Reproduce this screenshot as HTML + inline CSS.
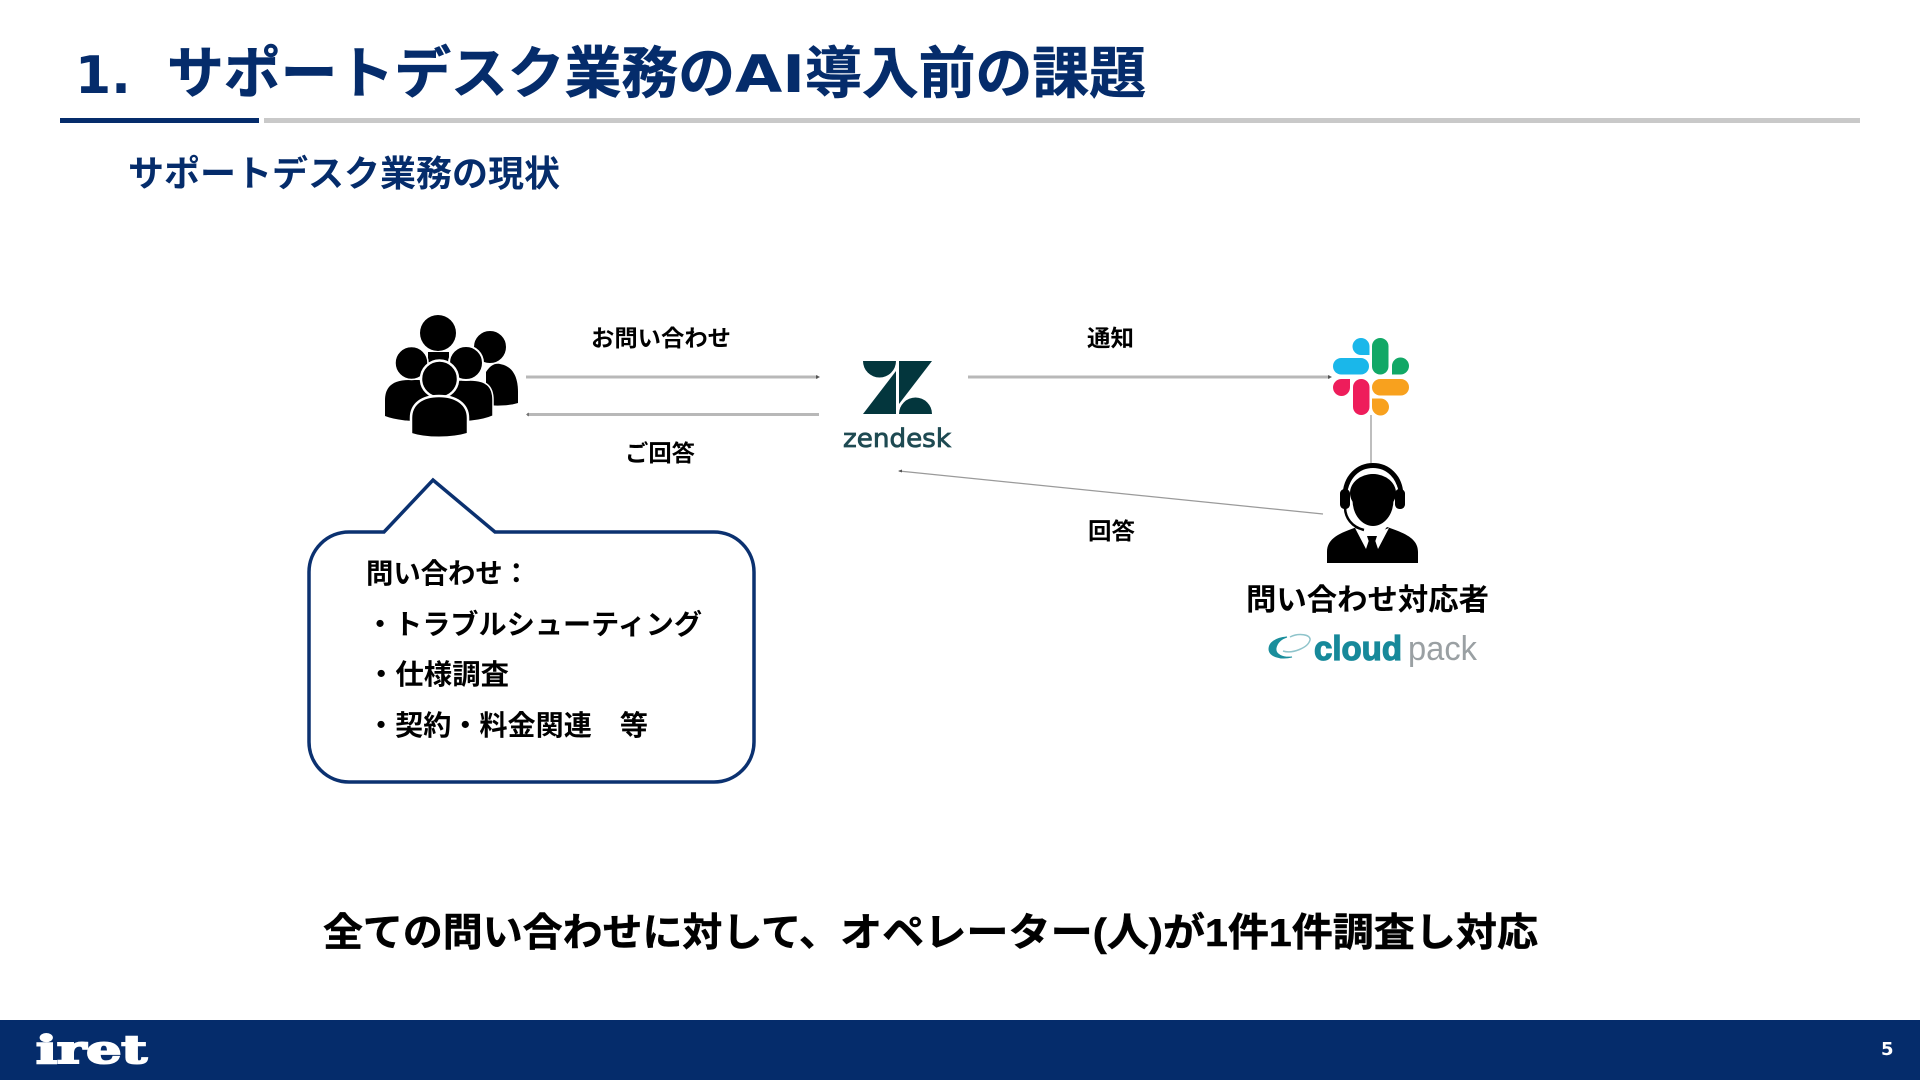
<!DOCTYPE html>
<html lang="ja"><head><meta charset="utf-8"><title>サポートデスク業務</title>
<style>
html,body{margin:0;padding:0;background:#fff;width:1920px;height:1080px;overflow:hidden}
svg{display:block}
text{font-family:"Liberation Sans","Noto Sans CJK JP",sans-serif;font-weight:700;fill:#000}
.n{fill:#052c6b}
.d{font-family:"DejaVu Sans","Noto Sans CJK JP",sans-serif}
</style></head><body>
<svg width="1920" height="1080" viewBox="0 0 1920 1080" xmlns="http://www.w3.org/2000/svg">
<rect width="1920" height="1080" fill="#fff"/>

<!-- Header -->
<text class="n d" x="75" y="93" font-size="52">1.</text>
<text class="n" x="167" y="93" font-size="56" stroke="#052c6b" stroke-width=".6" textLength="568" lengthAdjust="spacingAndGlyphs">サポートデスク業務の</text>
<text class="n d" x="735" y="92" font-size="52" textLength="70" lengthAdjust="spacingAndGlyphs">AI</text>
<text class="n" x="805" y="93" font-size="56" stroke="#052c6b" stroke-width=".6" textLength="341" lengthAdjust="spacingAndGlyphs">導入前の課題</text>
<rect x="60" y="118" width="199" height="5" fill="#052c6b"/>
<rect x="264" y="118" width="1596" height="5" fill="#c9c9c9"/>
<text class="n" x="128" y="186" font-size="36" textLength="432" lengthAdjust="spacingAndGlyphs">サポートデスク業務の現状</text>

<!-- People icon -->
<g fill="#000">
  <path d="M486 405 V372 C490 366 494 363 500 364 C512 366 518 376 518 392 V403 C508 406 496 406 486 405Z"/>
  <circle cx="490" cy="347" r="16.500" stroke="#fff" stroke-width="1"/>
  <circle cx="438" cy="333" r="18"/>
  <rect x="428" y="352" width="21" height="12"/>
  <path d="M385 416 V400 C385 386 394 380 409 380 H420 C430 382 436 388 436 400 V421 C418 422 398 421 385 416Z"/>
  <path d="M493 416 V400 C493 386 486 380 470 380 H458 C448 382 442 388 442 400 V422 C462 423 482 421 493 416Z" stroke="#fff" stroke-width="1.500"/>
  <circle cx="411.500" cy="363" r="16.500" stroke="#fff" stroke-width="1.500"/>
  <circle cx="466" cy="363" r="17" stroke="#fff" stroke-width="2"/>
  <ellipse cx="439.500" cy="379" rx="18.500" ry="18.500" stroke="#fff" stroke-width="2.500"/>
  <path d="M411 434 L411 418 C411 404 422 396 439 396 C456 396 468 404 468 418 L468 434 C452 439 426 439 411 434Z" stroke="#fff" stroke-width="2.500"/>
</g>

<!-- Connectors -->
<g fill="none">
  <line x1="526" y1="377" x2="818" y2="377" stroke="#b8b8b8" stroke-width="3"/>
  <path d="M816 375 L820 377 L816 379Z" fill="#555"/>
  <line x1="527" y1="414.500" x2="819" y2="414.500" stroke="#b8b8b8" stroke-width="3"/>
  <path d="M529 412.500 L526 414.500 L529 416.500Z" fill="#777"/>
  <line x1="968" y1="377" x2="1330" y2="377" stroke="#b8b8b8" stroke-width="3"/>
  <path d="M1328 375 L1332 377 L1328 379Z" fill="#555"/>
  <line x1="1371" y1="415" x2="1371" y2="463" stroke="#a8a8a8" stroke-width="1.500"/>
  <line x1="899" y1="471" x2="1323" y2="514" stroke="#9a9a9a" stroke-width="1.300"/>
  <path d="M902 469.500 L898 471 L902 472.500Z" fill="#555"/>
</g>

<!-- Connector labels -->
<text x="591" y="346" font-size="23" font-weight="500" textLength="140" lengthAdjust="spacingAndGlyphs">お問い合わせ</text>
<text x="625" y="461" font-size="23" textLength="70" lengthAdjust="spacingAndGlyphs">ご回答</text>
<text x="1087" y="346" font-size="23" textLength="47" lengthAdjust="spacingAndGlyphs">通知</text>
<text x="1088" y="539" font-size="23" textLength="47" lengthAdjust="spacingAndGlyphs">回答</text>

<!-- Zendesk -->
<g fill="#03363d">
  <path d="M863 361 H896 A16.500 16.500 0 0 1 863 361Z"/>
  <path d="M899 361 H932 L899 404Z"/>
  <path d="M896 371 V414 H863Z"/>
  <path d="M899 414 A16.500 16.500 0 0 1 932 414Z"/>
</g>
<text x="843" y="447" font-size="26" style="fill:#1e4a52;font-weight:400;font-family:'DejaVu Sans',sans-serif" stroke="#1e4a52" stroke-width=".8" textLength="108" lengthAdjust="spacingAndGlyphs">zendesk</text>

<!-- Slack -->
<g>
  <rect x="1333" y="358" width="36" height="16.500" rx="8.200" fill="#1ab7ea"/>
  <path d="M1361 355 A8.500 8.500 0 1 1 1369.500 346.500 V355Z" fill="#1ab7ea"/>
  <rect x="1372" y="338" width="16.500" height="36.500" rx="8.200" fill="#12a866"/>
  <path d="M1392 366 A8.500 8.500 0 1 1 1400.500 374.500 H1392Z" fill="#12a866"/>
  <rect x="1372" y="379" width="37" height="16.500" rx="8.200" fill="#f8a11e"/>
  <path d="M1372 398.500 H1380.500 A8.500 8.500 0 1 1 1372 407Z" fill="#f8a11e"/>
  <rect x="1353" y="379" width="16.500" height="36" rx="8.200" fill="#ee1d5b"/>
  <path d="M1350 379 V387.500 A8.500 8.500 0 1 1 1341.500 379Z" fill="#ee1d5b"/>
</g>

<!-- Agent -->
<g>
  <path d="M1327 563 V552 C1327 538 1340 533 1357 527 L1372 545 L1387 527 C1404 533 1418 538 1418 552 V563Z" fill="#000"/>
  <path d="M1355 528 L1366 549 L1371 534 Z M1389 528 L1378 549 L1373 534 Z" fill="#fff"/>
  <path d="M1367 536 H1377 L1375 542 L1379 560 H1365 L1369 542Z" fill="#000"/>
  <path d="M1345 497 C1345 455 1401 455 1401 497" fill="none" stroke="#000" stroke-width="5"/>
  <path d="M1349 490 C1354 467 1392 467 1397 490" fill="none" stroke="#fff" stroke-width="2.500"/>
  <ellipse cx="1373" cy="500" rx="20.500" ry="26" fill="#000"/>
  <ellipse cx="1373" cy="493" rx="23" ry="19" fill="#000"/>
  <rect x="1340" y="489" width="10" height="20" rx="4.500" fill="#000"/>
  <rect x="1395" y="489" width="10" height="20" rx="4.500" fill="#000"/>
  <path d="M1345 507 C1345 518 1352 527 1364 530" fill="none" stroke="#000" stroke-width="2.500"/>
</g>
<text x="1246" y="610" font-size="30" font-weight="500" textLength="243" lengthAdjust="spacingAndGlyphs">問い合わせ対応者</text>

<!-- cloudpack -->
<g fill="none">
  <path d="M1287 637 C1275 638 1269 643 1269 649 C1269 656 1280 660 1292 657 C1282 658 1275 654 1276 648 C1277 643 1281 639 1287 637Z" fill="#1a8e9c" stroke="#1a8e9c" stroke-width="1"/>
  <path d="M1283 651 C1292 654 1308 648 1310 640 C1311 634 1298 633 1290 637" stroke="#8fc4cb" stroke-width="1.500"/>
</g>
<text x="1314" y="660" font-size="34" style="fill:#17899a;font-weight:700;font-family:'Liberation Sans',sans-serif" stroke="#17899a" stroke-width="1.200" textLength="88" lengthAdjust="spacingAndGlyphs">cloud</text>
<text x="1408" y="660" font-size="34" style="fill:#9aa0a3;font-weight:400;font-family:'Liberation Sans',sans-serif" textLength="69" lengthAdjust="spacingAndGlyphs">pack</text>

<!-- Callout -->
<path d="M349 532 H384 L433 480 L495 532 H714 A40 40 0 0 1 754 572 V742 A40 40 0 0 1 714 782 H349 A40 40 0 0 1 309 742 V572 A40 40 0 0 1 349 532Z" fill="#fff" stroke="#0b3170" stroke-width="3.500"/>
<text x="366" y="583" font-size="28" textLength="164" lengthAdjust="spacingAndGlyphs">問い合わせ：</text>
<text x="366" y="634" font-size="28" textLength="336" lengthAdjust="spacingAndGlyphs">・トラブルシューティング</text>
<text x="367" y="684" font-size="28" textLength="142" lengthAdjust="spacingAndGlyphs">・仕様調査</text>
<text x="367" y="735" font-size="28" textLength="281" lengthAdjust="spacingAndGlyphs">・契約・料金関連　等</text>

<!-- Bottom statement -->
<g stroke="#000" stroke-width=".5">
<text x="323" y="946" font-size="39" textLength="516" lengthAdjust="spacingAndGlyphs">全ての問い合わせに対して、</text>
<text x="840" y="946" font-size="39" textLength="365" lengthAdjust="spacingAndGlyphs">オペレーター(人)が</text>
<text x="1205" y="946" font-size="39" textLength="333" lengthAdjust="spacingAndGlyphs">1件1件調査し対応</text>
</g>

<!-- Footer -->
<rect x="0" y="1020" width="1920" height="60" fill="#052c6b"/>
<text x="36" y="1063" font-size="38" style="fill:#fff;font-weight:700;font-family:'DejaVu Serif','Liberation Serif',serif" stroke="#fff" stroke-width="2" textLength="111" lengthAdjust="spacingAndGlyphs">iret</text>
<text x="1881" y="1055" font-size="18" style="fill:#fff;font-family:'DejaVu Sans',sans-serif">5</text>
</svg>
</body></html>
